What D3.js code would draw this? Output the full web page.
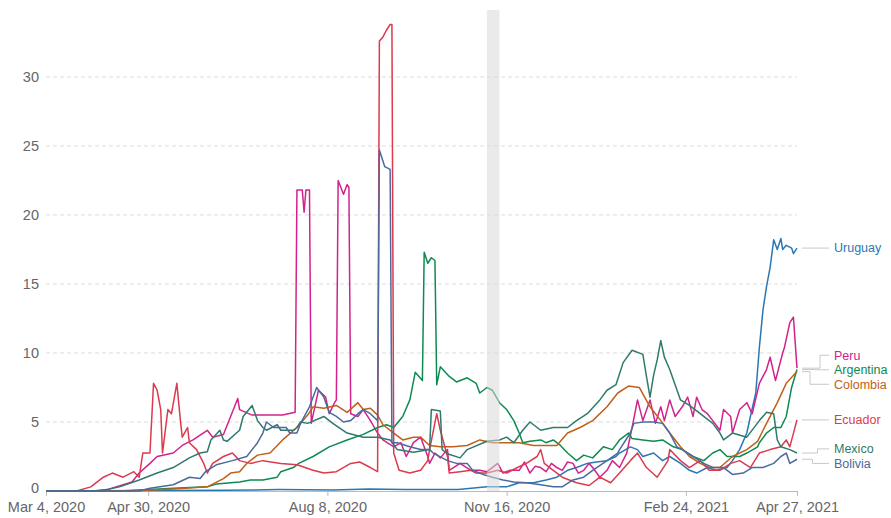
<!DOCTYPE html>
<html>
<head>
<meta charset="utf-8">
<script src="https://cdn.jsdelivr.net/npm/d3@7"></script>
<style>
  body { margin: 0; background: #fff; }
  svg { font-family: "Liberation Sans", Arial, sans-serif; }
  .grid line { stroke: #ddd; stroke-dasharray: 4,3; }
  .tick text { fill: #666; }
</style>
</head>
<body>
<div id="chart"></div>
<script>
// days are counted from Mar 4, 2020
var startDate = new Date(2020, 2, 4),
    endDate = new Date(2021, 3, 27),
    bandStart = new Date(2020, 10, 5),
    bandEnd = new Date(2020, 10, 12),
    yMax = 34.85;

var yTicks = [0, 5, 10, 15, 20, 25, 30];
var xTicks = ["2020-03-04", "2020-04-30", "2020-08-08", "2020-11-16", "2021-02-24", "2021-04-27"];

var countries = ["Uruguay", "Peru", "Argentina", "Colombia", "Ecuador", "Mexico", "Bolivia"];
var colors = ["#2a78b3", "#d2238c", "#0e8a52", "#c0601a", "#dc3a4e", "#2d7b6c", "#4c6a9c"];

var mexico = [[0,0],[26,0],[34,0.1],[41,0.3],[52,0.8],[62,1.3],[71,1.7],[80,2.4],[86,2.75],[90,2.85],[92,3.7],[97,4.4],[99,3.7],[101,3.6],[108,4.4],[110,5.4],[115,6.2],[118,5.1],[121,4.6],[123,4.4],[129,4.8],[131,4.4],[138,4.4],[140,4.6],[142,5.0],[146,4.9],[155,5.4],[160,4.9],[168,4.2],[177,3.9],[185,3.9],[192,3.7],[196,3.0],[205,2.8],[214,3.0],[215,5.9],[220,5.8],[221,3.0],[224,2.7],[231,2.4],[235,3.0],[246,3.6],[253,3.7],[257,3.9],[261,3.5],[266,4.4],[270,5.0],[276,4.4],[283,4.6],[291,4.6],[296,5.1],[302,5.6],[309,6.6],[313,7.3],[318,7.7],[322,9.3],[327,10.2],[333,9.9],[335,8.3],[337,6.8],[339,8.4],[341,9.5],[343,10.9],[345,9.7],[348,8.8],[354,6.6],[359,6.2],[365,5.6],[372,4.9],[376,4.2],[378,3.7],[383,4.2],[391,3.9],[398,5.1],[402,5.7],[406,5.6],[408,3.7],[410,3.2],[415,3.0],[419,2.75]];

var argentina = [[0,0],[41,0],[71,0.2],[90,0.3],[95,0.5],[108,0.65],[114,0.8],[121,0.8],[129,1.0],[131,1.4],[138,1.7],[141,2.0],[149,2.5],[158,3.2],[168,3.7],[177,4.1],[185,4.6],[190,4.8],[194,4.6],[199,5.4],[203,6.6],[206,8.6],[210,8.0],[211,17.3],[213,16.5],[215,16.9],[217,16.7],[218,7.7],[220,9.0],[225,8.3],[229,7.9],[235,8.2],[240,7.8],[242,7.1],[246,7.5],[249,7.3],[253,6.4],[257,5.9],[261,5.1],[264,4.2],[266,3.5],[270,3.6],[276,3.7],[279,3.5],[283,3.7],[287,3.3],[291,2.75],[296,2.2],[300,2.6],[305,2.4],[311,3.2],[316,3.0],[320,3.7],[325,4.2],[327,3.8],[333,3.7],[339,3.6],[344,3.7],[350,3.2],[355,3.0],[361,2.5],[367,2.2],[372,2.75],[376,3.0],[380,2.5],[387,2.5],[391,2.75],[397,3.2],[398,3.5],[402,4.2],[406,4.6],[410,4.6],[413,5.4],[416,7.5],[419,8.8]];

var colombia = [[0,0],[45,0],[71,0.15],[90,0.3],[99,0.9],[103,1.3],[108,1.4],[112,2.0],[118,2.6],[125,2.75],[132,3.7],[140,4.6],[146,5.5],[149,6.1],[155,6.0],[162,6.2],[168,5.7],[174,6.4],[177,5.9],[181,6.0],[185,5.5],[188,4.8],[194,4.2],[199,3.7],[205,3.9],[209,3.9],[214,3.3],[220,3.2],[227,3.2],[235,3.3],[242,3.7],[249,3.5],[257,3.5],[264,3.5],[272,3.3],[279,3.3],[285,3.3],[291,4.2],[298,4.6],[305,5.1],[313,6.1],[319,7.1],[325,7.6],[331,7.5],[337,6.1],[343,5.1],[348,4.2],[354,3.2],[359,2.5],[365,2.0],[370,1.7],[376,1.7],[383,2.5],[391,3.0],[397,3.6],[402,4.9],[408,6.4],[413,7.8],[419,8.65]];

var peru = [[0,0],[28,0],[34,0.1],[48,0.65],[52,1.3],[58,2.0],[62,2.5],[71,2.75],[76,3.3],[82,3.7],[90,4.4],[93,3.9],[99,4.1],[103,5.4],[107,6.7],[108,5.9],[115,5.5],[132,5.5],[139,5.7],[140,21.8],[143,21.8],[144,20.2],[145,21.8],[147,21.8],[148,4.9],[150,6.1],[152,7.3],[156,6.8],[158,5.6],[161,6.4],[162,6.6],[163,22.5],[166,21.5],[168,22.2],[169,22.0],[170,5.6],[174,5.4],[177,5.9],[181,5.1],[185,4.2],[188,3.7],[194,3.2],[198,3.5],[201,2.5],[205,3.5],[209,3.9],[213,2.5],[214,2.0],[217,2.75],[220,2.4],[224,3.0],[225,1.5],[231,2.0],[237,1.5],[242,1.5],[246,1.4],[249,1.7],[252,2.0],[255,1.3],[259,1.5],[264,1.5],[267,2.1],[270,1.3],[273,1.8],[276,1.7],[279,1.4],[282,2.0],[285,1.7],[288,1.5],[291,2.1],[294,2.0],[297,1.3],[300,1.5],[303,2.0],[305,1.7],[309,1.0],[313,1.5],[316,2.2],[320,1.7],[324,2.75],[327,4.6],[330,6.6],[333,5.1],[337,6.6],[340,4.9],[343,6.1],[345,5.1],[348,6.6],[351,5.4],[355,6.1],[358,6.8],[361,5.4],[363,6.8],[366,5.9],[369,5.6],[372,5.1],[376,4.4],[378,5.9],[382,5.4],[383,4.2],[387,5.9],[391,6.4],[394,5.6],[398,7.8],[402,8.8],[404,9.7],[407,8.0],[411,10.0],[412,10.4],[415,12.2],[417,12.6],[419,8.9]];

var ecuador = [[0,0],[17,0],[25,0.3],[32,1.0],[37,1.3],[43,1.0],[49,1.4],[52,1.0],[54,2.75],[58,2.75],[60,7.8],[62,7.3],[64,5.9],[65,2.75],[68,5.9],[70,5.6],[73,7.8],[75,5.1],[76,3.9],[79,4.6],[80,3.5],[84,3.0],[88,2.0],[90,1.3],[93,2.0],[99,2.5],[104,2.75],[108,2.2],[114,2.0],[121,2.2],[131,2.0],[140,1.9],[149,1.5],[155,1.3],[162,1.4],[170,2.0],[175,2.1],[181,1.7],[185,1.4],[186,32.6],[188,32.9],[190,33.4],[192,33.8],[193,33.8],[194,2.75],[197,1.5],[203,1.3],[209,1.5],[213,2.2],[214,3.0],[218,5.6],[220,4.4],[224,2.5],[225,1.3],[231,1.4],[237,1.5],[240,1.3],[246,1.3],[252,1.5],[257,1.3],[263,1.7],[268,2.0],[274,2.5],[276,3.0],[278,2.0],[283,1.5],[288,1.0],[296,0.6],[303,0.4],[309,1.0],[315,0.6],[320,1.3],[326,2.2],[330,2.75],[335,1.7],[341,1.0],[347,2.2],[348,3.0],[354,2.2],[359,1.7],[365,2.2],[370,1.5],[376,1.5],[382,2.0],[387,2.2],[393,1.7],[398,2.75],[404,3.0],[410,3.2],[413,3.7],[415,3.2],[419,5.15]];

var bolivia = [[0,0],[52,0],[58,0.2],[71,0.45],[80,1.0],[86,0.9],[89,1.4],[95,1.9],[104,2.2],[112,2.5],[118,3.5],[121,4.2],[123,5.0],[127,4.6],[134,4.6],[136,4.2],[140,4.2],[142,4.9],[147,6.1],[151,7.5],[155,6.8],[158,5.7],[162,5.4],[166,5.0],[170,5.1],[174,5.6],[177,5.9],[181,5.6],[185,5.1],[186,24.7],[189,23.5],[192,23.3],[193,3.5],[196,3.5],[203,3.2],[209,3.0],[214,3.0],[216,2.75],[224,2.2],[229,2.0],[235,2.0],[238,1.5],[244,1.2],[249,1.0],[255,0.8],[261,0.65],[268,0.6],[276,0.45],[283,0.3],[288,0.3],[294,0.8],[300,1.0],[305,1.5],[313,2.2],[319,2.75],[320,3.0],[326,4.2],[328,4.9],[333,5.0],[339,5.0],[344,4.9],[348,4.2],[352,3.2],[355,3.0],[361,2.5],[367,2.0],[372,1.7],[378,1.7],[383,1.2],[389,1.3],[394,1.7],[400,1.7],[406,2.0],[410,2.5],[413,2.75],[415,2.0],[419,2.3]];

var uruguay = [[0,0],[60,0.03],[100,0.05],[130,0.1],[160,0.08],[180,0.15],[200,0.1],[230,0.1],[246,0.3],[257,0.3],[264,0.6],[272,0.6],[279,0.8],[285,1.0],[291,1.5],[296,1.7],[302,2.0],[307,2.1],[313,2.2],[318,2.5],[320,2.75],[326,3.2],[330,3.0],[333,2.5],[339,2.75],[344,2.2],[348,2.5],[354,2.0],[359,1.5],[363,1.3],[369,1.7],[374,1.5],[380,1.7],[383,2.2],[387,3.0],[391,4.2],[393,5.4],[396,7.1],[398,10.4],[400,13.1],[402,14.8],[404,16.2],[406,18.2],[408,17.5],[410,18.3],[411,17.5],[413,17.8],[416,17.6],[417,17.2],[419,17.6]];

var seriesValues = [uruguay, peru, argentina, colombia, ecuador, mexico, bolivia];

function drawChart() {

    var width = 891,
        height = 518;

    var margin = {
        top: 10,
        right: 94,
        bottom: 27,
        left: 46
    };

    var svg = d3.select("#chart").append("svg")
        .attr("width", width)
        .attr("height", height);

    var x = d3.scaleTime()
        .domain([startDate, endDate])
        .range([margin.left, width - margin.right]);

    var y = d3.scaleLinear()
        .domain([0, yMax])
        .range([height - margin.bottom, margin.top]);

    // dashed gridlines
    svg.append("g")
        .attr("class", "grid")
        .selectAll("line")
        .data(yTicks.filter(function (d) { return d > 0; }))
        .join("line")
        .attr("x1", margin.left)
        .attr("x2", width - margin.right)
        .attr("y1", function (d) { return y(d); })
        .attr("y2", function (d) { return y(d); });

    var yAxis = svg.append("g")
        .attr("transform", "translate(" + (margin.left - 7) + ",0)")
        .call(d3.axisLeft(y).tickValues(yTicks).tickSize(0).tickPadding(0));
    yAxis.select(".domain").remove();
    yAxis.selectAll("text").style("font-size", "14.5px");
    // the zero label sits a touch higher so it clears the first date
    yAxis.selectAll(".tick").filter(function (d) { return d === 0; })
        .select("text").attr("dy", "0.1em");

    var parse = d3.timeParse("%Y-%m-%d");
    var xAxis = svg.append("g")
        .attr("transform", "translate(0," + y(0) + ")")
        .call(d3.axisBottom(x)
            .tickValues(xTicks.map(parse))
            .tickFormat(d3.timeFormat("%b %-d, %Y"))
            .tickSize(5)
            .tickPadding(6)
            .tickSizeOuter(0));
    xAxis.select(".domain").attr("stroke", "#bbb");
    xAxis.selectAll(".tick line").attr("stroke", "#bbb");
    xAxis.selectAll("text").style("font-size", "14.5px");

    var line = d3.line()
        .x(function (d) { return x(d3.timeDay.offset(startDate, d[0])); })
        .y(function (d) { return y(d[1]); });

    svg.append("g")
        .selectAll("path")
        .data(seriesValues)
        .join("path")
        .attr("fill", "none")
        .attr("stroke", function (d, i) { return colors[i]; })
        .attr("stroke-width", 1.5)
        .attr("stroke-linejoin", "round")
        .attr("d", line);

    // highlighted week
    svg.append("rect")
        .attr("x", x(bandStart))
        .attr("y", margin.top)
        .attr("width", x(bandEnd) - x(bandStart))
        .attr("height", y(0) - margin.top)
        .attr("fill", "#d9d9d9")
        .attr("opacity", 0.55);

    // end labels, pushed apart where they collide
    var gap = 14.5;
    var labels = countries.map(function (c, i) {
        var last = seriesValues[i][seriesValues[i].length - 1];
        return { name: c, color: colors[i], target: y(last[1]) };
    }).sort(function (a, b) { return a.target - b.target; });

    var groups = labels.map(function (d) { return { items: [d] }; });
    function place(g) {
        var mean = d3.mean(g.items, function (d) { return d.target; });
        g.top = mean - (g.items.length - 1) * gap / 2;
        g.items.forEach(function (d, k) {
            d.ly = g.top + k * gap;
            d.elbow = 815 - (k - (g.items.length - 1) / 2) * 5;
        });
        g.bottom = g.top + (g.items.length - 1) * gap;
    }
    groups.forEach(place);
    var merged = true;
    while (merged) {
        merged = false;
        for (var i = 0; i < groups.length - 1; i++) {
            if (groups[i + 1].top - groups[i].bottom < gap) {
                groups[i].items = groups[i].items.concat(groups[i + 1].items);
                groups.splice(i + 1, 1);
                place(groups[i]);
                merged = true;
                break;
            }
        }
    }

    var lineEnd = x(endDate) + 5,
        labelX = width - margin.right + 37;

    svg.append("g")
        .selectAll("path")
        .data(labels)
        .join("path")
        .attr("fill", "none")
        .attr("stroke", "#c8c8c8")
        .attr("stroke-width", 1)
        .attr("d", function (d) {
            return "M" + lineEnd + "," + d.target + "H" + d.elbow + "V" + d.ly + "H" + (labelX - 5);
        });

    svg.append("g")
        .selectAll("text")
        .data(labels)
        .join("text")
        .attr("x", labelX)
        .attr("y", function (d) { return d.ly; })
        .attr("dy", "0.35em")
        .attr("fill", function (d) { return d.color; })
        .style("font-size", "12.5px")
        .text(function (d) { return d.name; });
}

drawChart();
</script>
</body>
</html>
